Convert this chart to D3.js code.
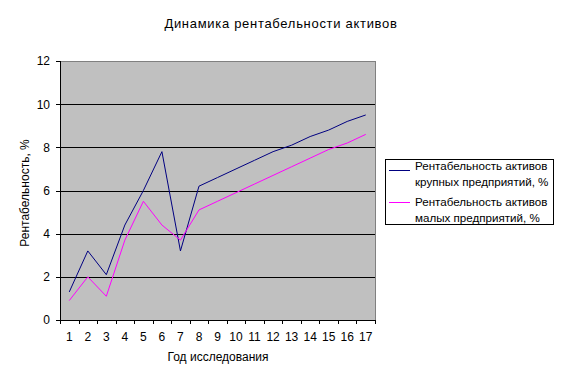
<!DOCTYPE html>
<html><head><meta charset="utf-8">
<script src="https://cdn.jsdelivr.net/npm/d3@7"></script>
<style>body{margin:0;background:#fff}svg{display:block}text{font-family:"Liberation Sans",Arial,sans-serif;fill:#000}</style>
</head><body>
<script>
const years = [1,2,3,4,5,6,7,8,9,10,11,12,13,14,15,16,17];
const largeSeries = [1.3,3.2,2.1,4.4,6.0,7.8,3.2,6.2,6.6,7.0,7.4,7.8,8.1,8.5,8.8,9.2,9.5];
const smallSeries = [0.9,2.0,1.1,3.7,5.5,4.4,3.7,5.1,5.5,5.9,6.3,6.7,7.1,7.5,7.9,8.2,8.6];
const yTicks = [0,2,4,6,8,10,12];
const seriesNames = [["Рентабельность активов","крупных предприятий, %"],["Рентабельность активов","малых предприятий, %"]];
const colors = ["#000080","#ff00ff"];
const title = "Динамика рентабельности активов";
const xTitle = "Год исследования";
const yTitle = "Рентабельность, %";

const W=562,H=383;
const L=60,R=375,T=61,B=320;
const svg=d3.select("body").append("svg").attr("width",W).attr("height",H);

const x=d3.scaleBand().domain(years).range([L,R]).padding(0);
const y=d3.scaleLinear().domain([0,12]).range([B,T]);

svg.append("rect").attr("x",L).attr("y",T).attr("width",R-L).attr("height",B-T)
  .attr("fill","#c0c0c0").attr("stroke","#808080").attr("shape-rendering","crispEdges");

svg.append("g").selectAll("line").data(yTicks.filter(d=>d>0&&d<12)).join("line")
  .attr("x1",L).attr("x2",R).attr("y1",d=>Math.round(y(d))+0.5).attr("y2",d=>Math.round(y(d))+0.5)
  .attr("stroke","#000").attr("shape-rendering","crispEdges");

const yAxis=svg.append("g").attr("transform",`translate(${L},0)`)
  .call(d3.axisLeft(y).tickValues(yTicks).tickSize(4).tickPadding(6));
yAxis.select(".domain").attr("stroke","#000").attr("shape-rendering","crispEdges");
yAxis.selectAll("line").attr("shape-rendering","crispEdges");
yAxis.selectAll("text").attr("font-size","12px").attr("font-family","Liberation Sans, Arial, sans-serif");

const xAxis=svg.append("g").attr("transform",`translate(0,${B})`)
  .call(d3.axisBottom(x).tickSize(0).tickPadding(12));
xAxis.select(".domain").remove();
xAxis.selectAll("text").attr("font-size","12px").attr("font-family","Liberation Sans, Arial, sans-serif");
const bounds=years.map(d=>x(d)).concat([R]);
svg.append("g").selectAll("line").data(bounds).join("line")
  .attr("x1",d=>Math.round(d)+0.5).attr("x2",d=>Math.round(d)+0.5).attr("y1",B).attr("y2",B+4)
  .attr("stroke","#000").attr("shape-rendering","crispEdges");
svg.append("line").attr("x1",L).attr("x2",R).attr("y1",B+0.5).attr("y2",B+0.5).attr("stroke","#000").attr("shape-rendering","crispEdges");

const line=d3.line().x((d,i)=>x(years[i])+x.bandwidth()/2).y(d=>y(d));
[largeSeries,smallSeries].forEach((s,i)=>{
  svg.append("path").datum(s).attr("d",line).attr("fill","none").attr("stroke",colors[i]).attr("stroke-width",1);
});

svg.append("text").attr("x",281).attr("y",28).attr("text-anchor","middle").attr("font-size","13px").attr("letter-spacing","0.7px").text(title);
svg.append("text").attr("x",218).attr("y",361).attr("text-anchor","middle").attr("font-size","12px").text(xTitle);
svg.append("text").attr("transform","translate(29,193) rotate(-90)").attr("text-anchor","middle").attr("font-size","12px").text(yTitle);

const lg=svg.append("g");
lg.append("rect").attr("x",385.5).attr("y",159.5).attr("width",168).attr("height",65).attr("fill","#fff").attr("stroke","#000").attr("shape-rendering","crispEdges");
const rowsY=[[170,186],[206,222]];
const sampY=[170.5,202.5];
seriesNames.forEach((nm,i)=>{
  lg.append("line").attr("x1",389).attr("x2",410).attr("y1",sampY[i]).attr("y2",sampY[i]).attr("stroke",colors[i]);
  nm.forEach((t,j)=>{
    lg.append("text").attr("x",415).attr("y",rowsY[i][j]).attr("font-size","11.6px").text(t);
  });
});
</script>
</body></html>
